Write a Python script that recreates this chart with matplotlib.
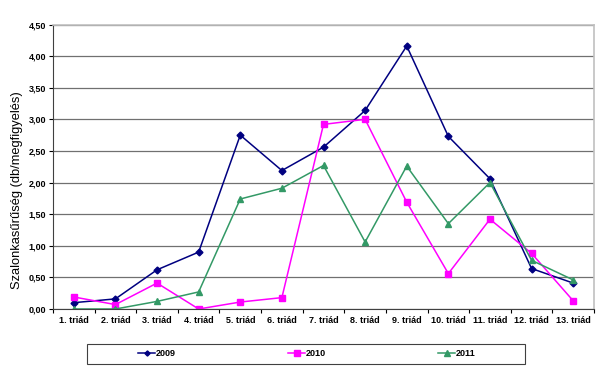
import matplotlib
matplotlib.use("Agg")
import matplotlib.pyplot as plt
from matplotlib.patches import Rectangle
import numpy as np

categories = ["1. triád", "2. triád", "3. triád", "4. triád", "5. triád", "6. triád",
              "7. triád", "8. triád", "9. triád", "10. triád", "11. triád", "12. triád", "13. triád"]
y2009 = [0.10, 0.16, 0.62, 0.90, 2.75, 2.19, 2.56, 3.14, 4.16, 2.73, 2.06, 0.64, 0.41]
y2010 = [0.19, 0.07, 0.41, 0.00, 0.11, 0.18, 2.92, 3.00, 1.69, 0.56, 1.42, 0.88, 0.13]
y2011 = [0.00, 0.00, 0.12, 0.27, 1.74, 1.91, 2.27, 1.06, 2.26, 1.35, 2.00, 0.77, 0.46]
yticks = [0.0, 0.5, 1.0, 1.5, 2.0, 2.5, 3.0, 3.5, 4.0, 4.5]
ylabel = "Szalonkasűrűség (db/megfigyelés)"

plt.rcParams['font.family'] = ['Liberation Sans', 'DejaVu Sans']

fig = plt.figure(figsize=(6.04, 3.76), dpi=100)
ax = fig.add_axes([53/604, 1-309/376, 541/604, 284.5/376])

x = np.arange(len(categories))
l1, = ax.plot(x, y2009, color='#000080', marker='D', markersize=3.5, lw=1.1, label='2009')
l2, = ax.plot(x, y2010, color='#FF00FF', marker='s', markersize=5, lw=1.1, label='2010')
l3, = ax.plot(x, y2011, color='#339966', marker='^', markersize=5, lw=1.1, label='2011')

ax.set_xlim(-0.5, len(categories)-0.5)
ax.set_ylim(0, 4.5)
ax.set_yticks(yticks)
ax.set_yticklabels([f"{v:.2f}".replace('.', ',') for v in yticks], fontsize=6.5, fontweight='bold')
ax.set_xticks(x)
ax.set_xticklabels(categories, fontsize=6.5, fontweight='bold')
ax.set_xticks(np.arange(-0.5, len(categories), 1.0), minor=True)
ax.tick_params(axis='x', which='major', length=0, pad=5)
ax.tick_params(axis='x', which='minor', length=3, direction='out', width=0.8)
ax.tick_params(axis='y', length=3, direction='out', width=0.8, pad=2)
ax.grid(axis='y', color='#707070', lw=0.9)
ax.set_axisbelow(True)
for s in ['top', 'right']:
    ax.spines[s].set_color('#c0c0c0')
    ax.spines[s].set_linewidth(1.2)
ax.spines['left'].set_color('#404040')
ax.spines['bottom'].set_color('#404040')
ax.set_ylabel(ylabel, fontsize=9.3)
ax.yaxis.set_label_coords(-0.056, 0.418)

# legend frame
fig.patches.append(Rectangle((87/604, 1-364/376), 438/604, 20/376, transform=fig.transFigure,
                             fill=False, edgecolor='#404040', lw=0.8))
leg = fig.legend(handles=[l1, l2, l3], loc='center', ncol=3,
                 bbox_to_anchor=(307/604, 1-354/376),
                 prop={'size': 6.5, 'weight': 'bold'}, frameon=False,
                 handlelength=1.9, handletextpad=0.1, columnspacing=12.4,
                 borderaxespad=0, borderpad=0, markerscale=0.75)

fig.savefig("out.png", dpi=100)
